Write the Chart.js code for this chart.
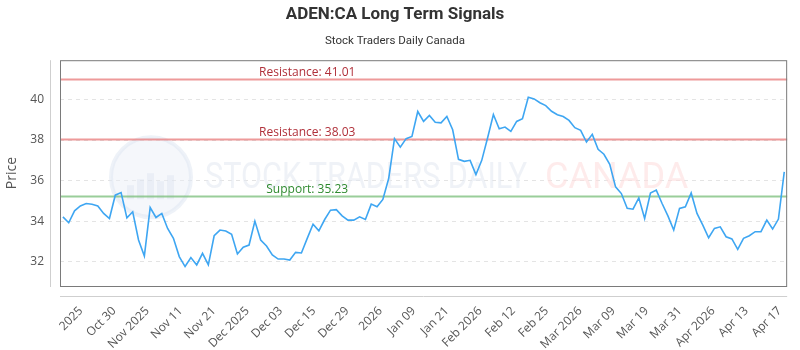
<!DOCTYPE html>
<html>
<head>
<meta charset="utf-8">
<title>ADEN:CA Long Term Signals</title>
<script src="https://cdn.jsdelivr.net/npm/chart.js@4.4.1/dist/chart.umd.min.js"></script>
<style>
  html, body { margin: 0; padding: 0; background: #fff; }
  #wrap { width: 800px; height: 350px; }
</style>
</head>
<body>
<div id="wrap"><canvas id="signals-chart" width="800" height="350"></canvas></div>
<script>
// --- data ---
const prices = [
  34.21, 33.92, 34.51, 34.75, 34.87, 34.83, 34.75, 34.38, 34.13, 35.28,
  35.41, 34.16, 34.46, 33.07, 32.28, 34.67, 34.18, 34.38, 33.64, 33.15,
  32.25, 31.76, 32.20, 31.84, 32.41, 31.84, 33.28, 33.56, 33.51, 33.35,
  32.38, 32.71, 32.82, 34.00, 33.07, 32.77, 32.33, 32.13, 32.13, 32.08,
  32.46, 32.43, 33.15, 33.85, 33.52, 34.08, 34.54, 34.57, 34.26, 34.05,
  34.05, 34.21, 34.08, 34.84, 34.71, 35.07, 36.10, 38.07, 37.65, 38.07,
  38.18, 39.41, 38.92, 39.21, 38.88, 38.85, 39.16, 38.51, 37.05, 36.95,
  37.00, 36.30, 37.00, 38.10, 39.26, 38.56, 38.64, 38.43, 38.92, 39.05,
  40.11, 40.03, 39.84, 39.70, 39.42, 39.25, 39.16, 38.97, 38.61, 38.48,
  37.90, 38.28, 37.54, 37.30, 36.80, 35.69, 35.36, 34.63, 34.59, 35.15,
  34.13, 35.39, 35.53, 34.87, 34.26, 33.56, 34.63, 34.71, 35.39, 34.38,
  33.80, 33.18, 33.64, 33.72, 33.23, 33.12, 32.61, 33.15, 33.28, 33.48,
  33.48, 34.05, 33.61, 34.10, 36.43
];

const xTickLabels = ['2025', 'Oct 30', 'Nov 2025', 'Nov 11', 'Nov 21', 'Dec 2025', 'Dec 03', 'Dec 15',
  'Dec 29', '2026', 'Jan 09', 'Jan 21', 'Feb 2026', 'Feb 12', 'Feb 25', 'Mar 2026', 'Mar 09',
  'Mar 19', 'Mar 31', 'Apr 2026', 'Apr 13', 'Apr 17'];

const yTickValues = [32, 34, 36, 38, 40];

const levelNames = ['Resistance', 'Resistance', 'Support'];
const levelValues = [41.01, 38.03, 35.23];
const levelKinds = ['res', 'res', 'sup'];

// --- styles ---
const levelStyle = {
  res: { line: 'rgba(232, 120, 120, 0.75)', text: '#b0303a' },
  sup: { line: 'rgba(120, 190, 120, 0.75)', text: '#2f8a2f' }
};
const tickFont = { family: '"Open Sans", sans-serif', size: 12 };

// watermark + levels + frame, drawn on the chart canvas
const decorations = {
  id: 'decorations',
  beforeDatasetsDraw(chart) {
    const { ctx, chartArea: a, scales: { y } } = chart;
    ctx.save();
    // faint logo
    const cx = a.left + 91, cy = a.top + 117;
    ctx.beginPath();
    ctx.arc(cx, cy, 40, 0, Math.PI * 2);
    ctx.fillStyle = 'rgba(232, 238, 246, 0.45)';
    ctx.fill();
    ctx.lineWidth = 4;
    ctx.strokeStyle = 'rgba(222, 230, 241, 0.5)';
    ctx.stroke();
    ctx.fillStyle = 'rgba(214, 224, 237, 0.35)';
    [[-24, 14], [-14, 20], [-4, 26], [6, 18], [16, 24]].forEach(([dx, h]) => {
      ctx.fillRect(cx + dx, cy + 22 - h, 7, h);
    });
    // faint brand text, squeezed to the narrow look of the original
    ctx.font = '36px "Roboto", sans-serif';
    ctx.textBaseline = 'middle';
    ctx.textAlign = 'left';
    ctx.fillStyle = 'rgba(228, 234, 242, 0.6)';
    ctx.fillText('STOCK TRADERS DAILY', a.left + 145, cy + 2, 322);
    ctx.fillStyle = 'rgba(253, 222, 222, 0.6)';
    ctx.fillText('CANADA', a.left + 485, cy + 2, 152);

    // support / resistance lines
    levelValues.forEach((v, i) => {
      const st = levelStyle[levelKinds[i]];
      const py = Math.round(y.getPixelForValue(v)) + 0.5;
      ctx.beginPath();
      ctx.moveTo(a.left, py);
      ctx.lineTo(a.right, py);
      ctx.lineWidth = 2;
      ctx.strokeStyle = st.line;
      ctx.stroke();
      ctx.font = '12px "Open Sans", sans-serif';
      ctx.textAlign = 'center';
      ctx.textBaseline = 'alphabetic';
      ctx.fillStyle = st.text;
      ctx.fillText(levelNames[i] + ': ' + v.toFixed(2), a.left + 0.34 * (a.right - a.left), py - 4);
    });
    ctx.restore();
  },
  afterDraw(chart) {
    const { ctx, chartArea: a } = chart;
    ctx.save();
    ctx.lineWidth = 1;
    ctx.strokeStyle = '#7a7a7a';
    ctx.strokeRect(a.left + 0.5, a.top + 0.5, a.right - a.left - 1, a.bottom - a.top);
    ctx.strokeStyle = '#cfcfcf';
    ctx.beginPath();
    ctx.moveTo(a.left - 9.5, a.top);
    ctx.lineTo(a.left - 9.5, a.bottom + 1);
    ctx.moveTo(a.left, a.bottom + 10.5);
    ctx.lineTo(a.right, a.bottom + 10.5);
    ctx.stroke();
    ctx.restore();
  }
};

new Chart(document.getElementById('signals-chart').getContext('2d'), {
  type: 'line',
  data: {
    datasets: [{
      label: 'ADEN:CA',
      data: prices.map((p, i) => ({ x: i, y: p })),
      borderColor: '#3ea6f2',
      borderWidth: 1.6,
      pointRadius: 0,
      fill: false,
      tension: 0
    }]
  },
  options: {
    responsive: false,
    animation: false,
    devicePixelRatio: 1,
    layout: { padding: { left: 0, right: 10, top: 0, bottom: 0 } },
    plugins: {
      legend: { display: false },
      tooltip: { enabled: false },
      title: {
        display: true,
        text: 'ADEN:CA Long Term Signals',
        color: '#333',
        font: { family: '"Roboto", sans-serif', size: 17, weight: 'bold' },
        padding: { top: 5, bottom: 5 }
      },
      subtitle: {
        display: true,
        text: 'Stock Traders Daily Canada',
        color: '#333',
        font: { family: '"Roboto", sans-serif', size: 11.5 },
        padding: { top: 4, bottom: 12 }
      }
    },
    scales: {
      x: {
        type: 'linear',
        min: -0.5,
        max: prices.length - 0.5,
        grid: { display: false },
        border: { display: false },
        afterBuildTicks: (scale) => {
          scale.ticks = xTickLabels.map((_, i) => ({ value: 3.1 + i * 5.72 }));
        },
        afterFit: (scale) => { scale.height = 64; },
        ticks: {
          autoSkip: false,
          minRotation: 45,
          maxRotation: 45,
          padding: 10,
          color: '#555',
          font: tickFont,
          callback: (value, index) => xTickLabels[index]
        }
      },
      y: {
        min: 30.8,
        max: 41.94,
        afterBuildTicks: (scale) => {
          scale.ticks = yTickValues.map(v => ({ value: v }));
        },
        afterFit: (scale) => { scale.width = 60; },
        grid: { color: '#e4e4e4', drawTicks: false },
        border: { display: false, dash: [4, 4] },
        ticks: { padding: 16, color: '#555', font: tickFont },
        title: {
          display: true,
          text: 'Price',
          color: '#555',
          font: { family: '"Open Sans", sans-serif', size: 14 },
          padding: { top: 4, bottom: 0 }
        }
      }
    }
  },
  plugins: [decorations]
});
</script>
</body>
</html>
